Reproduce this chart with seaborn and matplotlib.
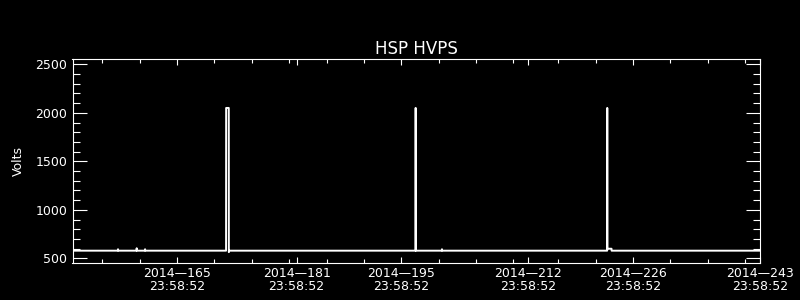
import matplotlib
matplotlib.use("Agg")
import matplotlib.pyplot as plt
import seaborn as sns
import pandas as pd

# ---- data (day of year 2014, fractional) ----
day = [151.9992, 158.05, 158.09, 158.13, 160.55, 160.59, 160.63, 161.67, 161.71, 161.75,
       172.55, 172.56, 172.91, 172.92, 172.96,
       197.90, 197.91, 197.93, 197.94,
       201.40, 201.44, 201.48,
       223.55, 223.56, 223.57, 224.13, 224.14, 243.9992]
volts = [580, 580, 595, 580, 580, 605, 580, 580, 595, 580,
         580, 2050, 2050, 565, 580,
         580, 2050, 2050, 580,
         580, 595, 580,
         580, 2050, 600, 600, 580, 580]

major_days = [165.9992, 181.9992, 195.9992, 212.9992, 226.9992, 243.9992]
major_labels = ["2014\u2014165\n23:58:52", "2014\u2014181\n23:58:52", "2014\u2014195\n23:58:52",
                "2014\u2014212\n23:58:52", "2014\u2014226\n23:58:52", "2014\u2014243\n23:58:52"]
minor_days = [155.9992, 160.9992, 170.9992, 175.9992, 180.9992, 185.9992, 190.9992,
              200.9992, 205.9992, 210.9992, 216.9992, 221.9992, 231.9992, 236.9992, 241.9992]
y_major = [500, 1000, 1500, 2000, 2500]
y_minor = [600, 700, 800, 900, 1100, 1200, 1300, 1400, 1600, 1700, 1800, 1900,
           2100, 2200, 2300, 2400]
title = "HSP HVPS"
ylabel = "Volts"

sns.set_theme(style="dark")
plt.rcParams["font.family"] = ["DejaVu Sans"]
plt.rcParams.update({
    "figure.facecolor": "black",
    "axes.facecolor": "black",
    "axes.edgecolor": "white",
    "text.color": "white",
    "xtick.color": "white",
    "ytick.color": "white",
    "axes.grid": False,
})

df = pd.DataFrame({"day": day, "volts": volts})

fig = plt.figure(figsize=(8, 3), dpi=100)
ax = fig.add_axes([72.5 / 800, (300 - 263.3) / 300, (760 - 72.5) / 800, (263.3 - 59.3) / 300])
sns.lineplot(data=df, x="day", y="volts", ax=ax, color="white", linewidth=1.4,
             estimator=None, sort=False)

ax.set_xlim(151.9992, 243.9992)
ax.set_ylim(450, 2551)

for s in ax.spines.values():
    s.set_visible(True)
    s.set_color("white")
    s.set_linewidth(0.8)

ax.set_xticks(major_days)
ax.set_xticklabels(major_labels, fontsize=9)
ax.set_xticks(minor_days, minor=True)
ax.set_yticks(y_major)
ax.set_yticklabels([str(v) for v in y_major], fontsize=9)
ax.set_yticks(y_minor, minor=True)

for lab in ax.get_xticklabels():
    lab.set_linespacing(1.0)

ax.tick_params(axis="x", which="major", direction="in", length=4.6, width=0.8,
               top=True, bottom=True, pad=3.0, colors="white")
ax.tick_params(axis="x", which="minor", direction="in", length=2.7, width=0.8,
               top=True, bottom=True, colors="white")
ax.tick_params(axis="y", which="major", direction="in", length=10, width=0.8,
               left=True, right=True, pad=3.6, colors="white")
ax.tick_params(axis="y", which="minor", direction="in", length=5, width=0.8,
               left=True, right=True, colors="white")

ax.set_xlabel("")
ax.set_ylabel("")
fig.text(18.3 / 800, 1 - 161.5 / 300, ylabel, rotation=90, ha="center", va="center",
         fontsize=9, color="white")
ax.set_title(title, fontsize=12, color="white", pad=3.8)

fig.savefig("out.png", dpi=100, facecolor="black")
